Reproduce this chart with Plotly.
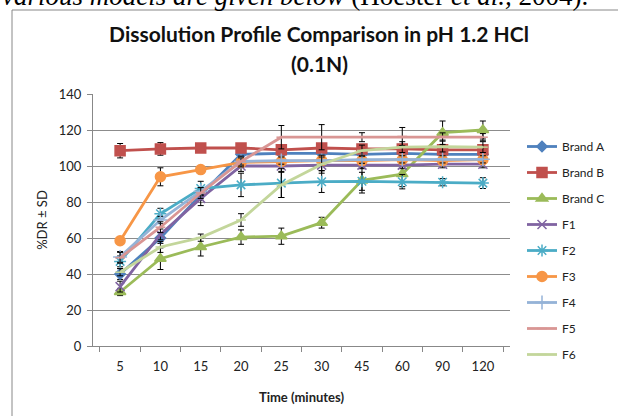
import plotly.graph_objects as go

time_labels = ["5", "10", "15", "20", "25", "30", "45", "60", "90", "120"]

brand_a = [40, 60, 84, 106.5, 107, 107, 106.5, 107, 106.5, 106.5]
brand_b = [108.5, 109.5, 110, 110, 109, 110, 109.5, 109.5, 109, 109]
brand_c = [30, 48.5, 55, 60.5, 61, 68.5, 92, 95.5, 118.5, 120]
f1 = [33, 62, 82, 100, 100, 100.5, 100.5, 100.5, 101, 101]
f2 = [47, 73.5, 87.5, 89.5, 90.5, 91.3, 91.5, 91.3, 91, 90.5]
f3 = [58.5, 94, 98, 102, 102.5, 103, 103, 103.5, 103, 103.5]
f4 = [49.5, 70, 86, 102.5, 103, 103, 103.5, 103.7, 103.7, 103.7]
f5 = [49, 66, 85, 102.5, 116, 116, 116, 116.4, 116.4, 116]
f6 = [41, 55, 60.2, 70, 89.5, 101, 108.6, 110.5, 110.8, 110.5]

sd_brand_a = [3, 3, 3, 2, 2, 2, 2, 2, 2, 2]
sd_brand_b = [4, 3.5, 1, 1, 1.5, 1.5, 1.5, 1.5, 1.5, 1.5]
sd_brand_c = [2, 6, 5, 4, 4.5, 3, 7, 7, 6.5, 5]
sd_f1 = [3, 3, 4, 3, 3, 3, 2, 2, 2, 2]
sd_f2 = [3, 3, 4, 6.5, 8, 6, 5, 4, 2, 3]
sd_f3 = [2, 5, 2, 2, 2, 2, 2, 2, 2, 2]
sd_f4 = [3, 2, 2, 2, 2, 2, 2, 2, 2, 2]
sd_f5 = [3, 3, 3, 3, 6.5, 7, 2.5, 5, 2, 2]
sd_f6 = [2, 3, 2, 3.5, 7, 5, 3, 3, 3, 3]

series_names = ["Brand A", "Brand B", "Brand C", "F1", "F2", "F3", "F4", "F5", "F6"]
series_values = [brand_a, brand_b, brand_c, f1, f2, f3, f4, f5, f6]
series_sd = [sd_brand_a, sd_brand_b, sd_brand_c, sd_f1, sd_f2, sd_f3, sd_f4, sd_f5, sd_f6]
colors = ["#4F81BD", "#C0504D", "#9BBB59", "#8064A2", "#4BACC6",
          "#F79646", "#95B3D7", "#D99694", "#C3D69B"]
symbols = ["diamond", "square", "triangle-up", "x-thin", "asterisk",
           "circle", "cross-thin", "line-ew", "line-ew"]
sizes = [8, 10, 10, 9, 10, 10, 10, 7, 7]

FONT = "Lato, 'Liberation Sans', Arial, sans-serif"

fig = go.Figure()
for name, vals, sd, col, sym, sz in zip(series_names, series_values, series_sd, colors, symbols, sizes):
    fig.add_trace(go.Scatter(
        x=time_labels, y=vals, name=name, mode="lines+markers",
        legendgroup=name,
        line=dict(color=col, width=2.8),
        marker=dict(symbol=sym, size=sz, color=col, line=dict(color=col, width=1.5)),
        error_y=dict(type="data", array=sd, visible=True, color="black", thickness=1, width=3),
    ))

H = 416
top, bottom = 94, 70
ph = H - top - bottom
L, R = 93, 510
pw = R - L

def py(p):
    return (H - bottom - p) / ph

def px(p):
    return (p - L) / pw

fig.update_layout(
    width=618, height=416,
    margin=dict(l=L, r=618 - R, t=top, b=bottom, autoexpand=False),
    paper_bgcolor="white", plot_bgcolor="white",
    font=dict(family=FONT, size=12, color="#222"),
    title=dict(text="<b>Dissolution Profile Comparison in pH 1.2 HCl</b>",
               x=319 / 618, xanchor="center", y=1 - 35 / 416, yanchor="middle",
               font=dict(size=21, family=FONT, color="#111")),
    showlegend=True,
    legend=dict(x=px(522), xref="paper", xanchor="left",
                y=py(132), yanchor="top",
                traceorder="grouped", tracegroupgap=7,
                font=dict(size=12, family=FONT, color="#222"),
                bgcolor="rgba(0,0,0,0)", itemwidth=30),
    shapes=[dict(type="rect", xref="paper", yref="paper",
                 x0=px(12), x1=px(640), y0=py(440), y1=py(10),
                 line=dict(color="#888", width=1), fillcolor="rgba(0,0,0,0)", layer="below")],
    annotations=[
        dict(text="<i>various models are given below</i> (Hoester <i>et al.,</i> 2004).",
             xref="paper", yref="paper", x=px(0), xanchor="left",
             y=py(-4), yanchor="middle", showarrow=False,
             font=dict(family="'Liberation Serif', 'Times New Roman', serif", size=27, color="black")),
        dict(text="<b>(0.1N)</b>", xref="paper", yref="paper", x=px(319), xanchor="center",
             y=py(63), yanchor="middle", showarrow=False,
             font=dict(size=21, family=FONT, color="#111")),
    ],
)

fig.update_xaxes(
    type="category", title=dict(text="<b>Time (minutes)</b>", font=dict(size=13), standoff=20),
    showline=True, linecolor="#888", linewidth=1, automargin=False,
    ticks="outside", tickson="boundaries", ticklen=5, tickcolor="#888",
    ticklabelstandoff=8, showgrid=False, zeroline=False,
    tickfont=dict(size=13, color="#222"),
)
fig.update_yaxes(
    range=[0, 140], dtick=20, title=dict(text="%DR ± SD", font=dict(size=13), standoff=8),
    showline=True, linecolor="#888", linewidth=1, automargin=False,
    ticks="outside", ticklen=5, tickcolor="#888", ticklabelstandoff=3,
    showgrid=True, gridcolor="#8c8c8c", gridwidth=1, zeroline=False,
    tickfont=dict(size=13, color="#222"),
)

fig.write_html("out.html", config={"displayModeBar": False},
               post_script="document.body.style.margin='0';")
